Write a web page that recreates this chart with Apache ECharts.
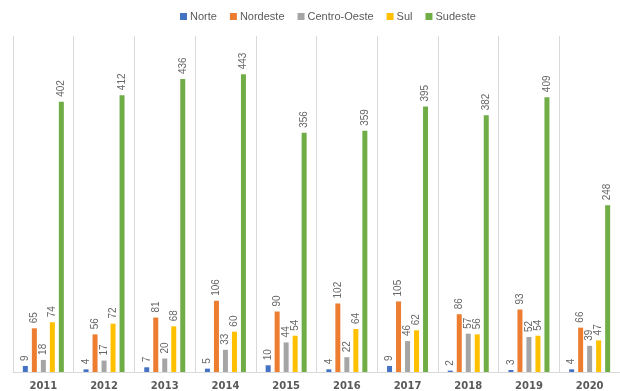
<!DOCTYPE html>
<html><head><meta charset="utf-8">
<script src="https://cdn.jsdelivr.net/npm/echarts@6/dist/echarts.min.js"></script>
<style>html,body{margin:0;padding:0;background:#fff}#c{width:620px;height:391px}</style>
</head><body><div id="c"></div>
<script>
const years = ['2011','2012','2013','2014','2015','2016','2017','2018','2019','2020'];
const norte = [9,4,7,5,10,4,9,2,3,4];
const nordeste = [65,56,81,106,90,102,105,86,93,66];
const centroOeste = [18,17,20,33,44,22,46,57,52,39];
const sul = [74,72,68,60,54,64,62,56,54,47];
const sudeste = [402,412,436,443,356,359,395,382,409,248];
const seriesNames = ['Norte','Nordeste','Centro-Oeste','Sul','Sudeste'];
const seriesData = [norte, nordeste, centroOeste, sul, sudeste];
const colors = ['#4472C4','#ED7D31','#A5A5A5','#FFC000','#70AD47'];

const chart = echarts.init(document.getElementById('c'), null, {renderer:'canvas'});
chart.setOption({
  animation:false,
  color: colors,
  legend: {
    top: 6, left: 175, itemWidth: 7, itemHeight: 7, itemGap: 13,
    icon: 'rect',
    textStyle: {color:'#595959', fontSize: 11, fontFamily:'Liberation Sans', padding:[0,0,0,-2]},
    data: seriesNames
  },
  grid: {left: 13, right: -8, top: 36, bottom: 16, containLabel:false},
  xAxis: {
    type:'category', data: years,
    axisLine:{lineStyle:{color:'#d9d9d9'}},
    axisTick:{show:false},
    splitLine:{show:true, lineStyle:{color:'#d9d9d9', width:1}},
    axisLabel:{color:'#595959', fontSize:10, fontWeight:'bold', fontFamily:'DejaVu Sans', margin:9}
  },
  yAxis: {type:'value', min:0, max:500, show:false, splitLine:{show:false}},
  series: seriesNames.map((n,i)=>({
    name:n, type:'bar', data: seriesData[i], barWidth:5, barGap:'80%',
    label:{show:true, position:'top', rotate:90, align:'left', verticalAlign:'middle', distance:5,
      color:'#666666', fontSize:10, fontFamily:'Liberation Sans'}
  }))
});
</script></body></html>
